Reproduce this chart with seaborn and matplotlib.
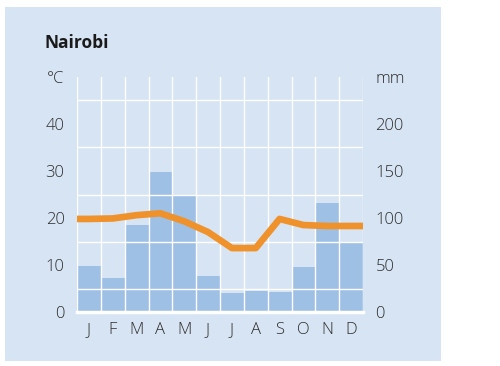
import matplotlib
matplotlib.use("Agg")
import matplotlib.pyplot as plt
from matplotlib.patches import Rectangle
import seaborn as sns
import pandas as pd
import numpy as np

# ---- data ----
months = ["J", "F", "M", "A", "M", "J", "J", "A", "S", "O", "N", "D"]
precip_mm = [49, 36, 93, 149, 123, 38, 20, 22, 21, 48, 116, 73]
temp_c = [19.8, 19.9, 20.6, 21.0, 19.3, 17.0, 13.6, 13.6, 19.8, 18.5, 18.3, 18.3]
temp_ticks = [0, 10, 20, 30, 40]
precip_ticks = [0, 50, 100, 150, 200]
title = "Nairobi"

BG = "#d6e4f3"
BAR = "#9dc0e4"
LINE = "#f0922b"
TXT = "#2e2e2e"

sns.set_theme(style="white")
plt.rcParams['font.family'] = ['Open Sans', 'DejaVu Sans']

fig = plt.figure(figsize=(5, 3.66), dpi=100)
fig.patch.set_facecolor("white")
fig.add_artist(Rectangle((5 / 500, 1 - 361 / 366), 436 / 500, 354 / 366,
                         transform=fig.transFigure, facecolor=BG,
                         edgecolor="none", zorder=0))

ax = fig.add_axes([77 / 500, 1 - 312 / 366, 286 / 500, 235 / 366])
ax.set_facecolor(BG)

df = pd.DataFrame({"pos": np.arange(len(months)), "mm": precip_mm})
sns.barplot(data=df, x="pos", y="mm", color=BAR, saturation=1, width=1.0,
            edgecolor="none", linewidth=0, ax=ax)

ax2 = ax.twinx()
xs = np.concatenate([[-0.5], np.arange(len(months)), [len(months) - 0.5]])
ys = np.concatenate([[temp_c[0]], temp_c, [temp_c[-1]]])
sns.lineplot(x=xs, y=ys, ax=ax2, color=LINE, linewidth=4.8, sort=False,
             solid_joinstyle="round", solid_capstyle="butt")

# limits
ax.set_xlim(-0.5, len(months) - 0.5)
ax.set_ylim(0, 250)
ax2.set_ylim(0, 50)

# precipitation axis (right)
ax.yaxis.tick_right()
ax.set_yticks(precip_ticks + [250])
ax.set_yticklabels([str(v) for v in precip_ticks] + ["mm"])
ax.set_yticks(np.arange(0, 251, 25), minor=True)
ax.set_xticks(np.arange(len(months)))
ax.set_xticklabels(months)
ax.set_xticks(np.arange(-0.5, len(months), 1), minor=True)

# temperature axis (left)
ax2.yaxis.tick_left()
ax2.set_yticks(temp_ticks + [50])
ax2.set_yticklabels([str(v) for v in temp_ticks] + ["°C"])

ax.grid(False, which="major")
ax.grid(True, which="minor", color="white", linewidth=1.0)
ax.set_axisbelow(False)

for a in (ax, ax2):
    a.set_xlabel("")
    a.set_ylabel("")
    for s in a.spines.values():
        s.set_visible(False)
    a.tick_params(which="both", length=0)
ax.spines["bottom"].set_visible(True)
ax.spines["bottom"].set_color("white")
ax.spines["bottom"].set_linewidth(2.5)

ax.tick_params(axis="y", pad=9, labelsize=12, labelcolor=TXT)
ax.tick_params(axis="x", pad=7, labelsize=12, labelcolor=TXT)
ax2.tick_params(axis="y", pad=9, labelsize=12, labelcolor=TXT)
for lab in ax.get_xticklabels() + ax.get_yticklabels() + ax2.get_yticklabels():
    lab.set_fontweight("light")

fig.text(45 / 500, 1 - 43 / 366, title, fontweight="bold", fontsize=12.5,
         color="#1a1a1a", ha="left", va="center")

fig.savefig("out.png", dpi=100, facecolor="white")
